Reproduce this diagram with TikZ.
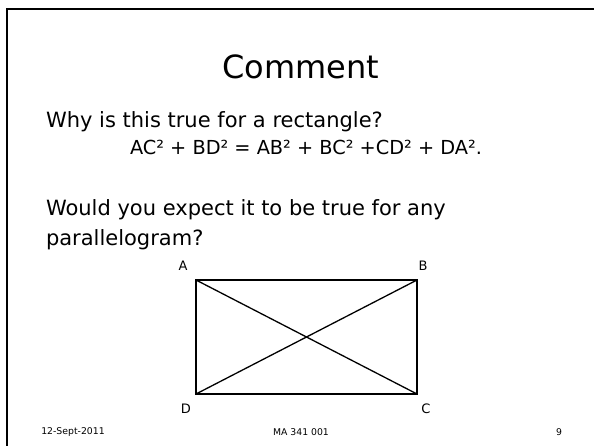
\documentclass[tikz,border=0pt]{standalone}
\usepackage{fontspec}
\setmainfont{DejaVu Sans}
\begin{document}
\begin{tikzpicture}[x=1pt,y=-1pt,
  txt/.style={inner sep=0pt,outer sep=0pt,font=\fontsize{21}{24}\selectfont},
  eqtxt/.style={inner sep=0pt,outer sep=0pt,font=\fontsize{19.3}{22}\selectfont},
  lbl/.style={inner sep=0pt,font=\fontsize{13}{15}\selectfont},
  foot/.style={inner sep=0pt,font=\fontsize{9.3}{11}\selectfont},
  edge/.style={line width=1.3pt}]
\useasboundingbox (0,0) rectangle (594,446);
\draw[line width=2pt] (7,470) -- (7,9) -- (620,9);
\node[inner sep=0pt,anchor=base,font=\fontsize{32}{38}\selectfont] (title) at (301,79) {Comment};
\node[txt,anchor=base west] (why) at (46,128) {Why is this true for a rectangle?};
\node[eqtxt,anchor=base west] (eq) at (130,155) {AC² + BD² = AB² + BC² +CD² + DA².};
\node[txt,anchor=base west] (would) at (46,216) {Would you expect it to be true for any};
\node[txt,anchor=base west] (para) at (46,246) {parallelogram?};
\coordinate (A) at (196,280);
\coordinate (B) at (417,280);
\coordinate (C) at (417,394);
\coordinate (D) at (196,394);
\node[lbl] (la) at (183,266) {A};
\node[lbl] (lb) at (423,266) {B};
\node[lbl] (ld) at (186,409) {D};
\node[lbl] (lc) at (426,409) {C};
\draw[edge] (A) -- (B) -- (C) -- (D) -- cycle;
\draw[edge] (A) -- (C);
\draw[edge] (B) -- (D);
\node[foot] (date) at (73,432) {12-Sept-2011};
\node[foot] (course) at (301,432) {MA 341 001};
\node[foot] (page) at (559,432) {9};
\end{tikzpicture}
\end{document}
